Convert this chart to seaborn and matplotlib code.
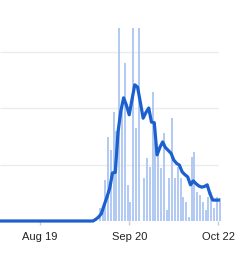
import numpy as np
import pandas as pd
import matplotlib
matplotlib.use("Agg")
import matplotlib.pyplot as plt
import seaborn as sns

# дни считаем от 20 сентября (0 = Sep 20)
bar_days = list(range(-11, 33))
bar_values = [0.23, 0.25, 0.73, 1.49, 1.26, 1.93, 1.6, 3.6, 2.1, 2.8, 0.64,
              0.34, 3.6, 1.65, 3.6, 0.0, 0.76, 1.11, 0.96, 2.28, 1.4, 1.2,
              0.94, 1.56, 0.2, 0.76, 1.82, 0.76, 0.96, 0.76, 0.42, 0.34,
              0.07, 1.13, 1.22, 0.51, 0.46, 0.34, 0.2, 0.42, 0.51, 0.23,
              0.42, 0.4]

# скользящее среднее (линия)
line_days = list(range(-47, 33))
line_values = [0.0] * 34 + [
    0.0, 0.03, 0.07, 0.13, 0.28, 0.42, 0.58, 0.85, 0.86, 1.58, 1.95, 2.18,
    2.05, 1.88, 2.15, 2.41, 2.37, 2.1, 1.82, 1.92, 2.0, 1.75, 1.74, 1.17,
    1.3, 1.4, 1.3, 1.25, 1.2, 1.08, 1.02, 0.99, 0.87, 0.82, 0.78, 0.64,
    0.71, 0.66, 0.62, 0.6, 0.61, 0.64, 0.48, 0.37, 0.37, 0.37]

tick_days = [-32, 0, 32]
tick_labels = ["Aug 19", "Sep 20", "Oct 22"]
grid_values = [1, 2, 3]

bar_offset = 0.43  # столбики чуть правее отметки дня

bars = pd.DataFrame({"day": np.array(bar_days) + bar_offset, "value": bar_values})
line = pd.DataFrame({"day": line_days, "value": line_values})

fig = plt.figure(figsize=(2.52, 2.57), dpi=100)
ax = fig.add_axes([0, 36 / 257, 222 / 252, 193 / 257])

x_left, x_right = -46.38, 33.31
ax.hlines(grid_values, x_left, 32, color="#ebebeb", linewidth=1, zorder=0)

sns.barplot(data=bars, x="day", y="value", native_scale=True, width=0.72,
            color="#b3cbf3", saturation=1, errorbar=None, ax=ax, zorder=1,
            linewidth=0)
sns.lineplot(data=line, x="day", y="value", color="#1c5fce", linewidth=2.3,
             ax=ax, zorder=3, clip_on=False)

ax.set_xlim(x_left, x_right)
ax.set_ylim(0, 3.416)
ax.set_xticks(tick_days)
ax.set_xticklabels(tick_labels, fontsize=8, family="Liberation Sans", color="#222222")
ax.set_yticks([])
ax.tick_params(axis="x", length=3, color="#cccccc", width=1, pad=5)
ax.set_xlabel("")
ax.set_ylabel("")
for s in ax.spines.values():
    s.set_visible(False)

fig.savefig("out.png", dpi=100)
